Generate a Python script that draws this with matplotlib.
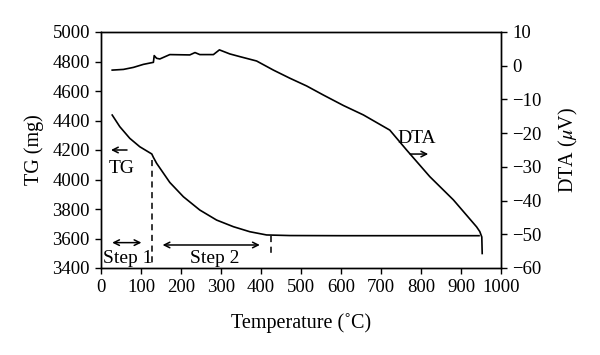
import matplotlib
matplotlib.use("Agg")
import matplotlib.pyplot as plt

plt.rcParams['font.family'] = ['Liberation Serif', 'DejaVu Serif']
plt.rcParams['mathtext.fontset'] = 'stix'

# TG curve (temperature in C, mass in mg)
tg_temp = [28, 47, 72, 97, 127, 131, 139, 172, 206, 247, 289, 331, 372, 414, 472, 600, 800, 945]
tg_mass = [4437, 4358, 4279, 4222, 4173, 4150, 4110, 3980, 3883, 3793, 3725, 3680, 3646, 3624, 3620, 3619, 3619, 3619]

# DTA curve (temperature in C, signal in uV)
dta_temp = [28, 56, 81, 106, 131, 133, 139, 147, 172, 222, 235, 247, 281, 296, 322, 347, 389, 431,
            472, 514, 556, 606, 656, 722, 764, 822, 881, 939, 947, 952, 953]
dta_val = [-1.3, -1.1, -0.5, 0.4, 1.0, 3.0, 2.2, 2.0, 3.3, 3.2, 3.9, 3.3, 3.3, 4.7, 3.5, 2.7, 1.4, -1.3,
           -3.7, -6.0, -8.7, -11.8, -14.6, -19.1, -25.0, -32.9, -39.8, -47.8, -49.2, -50.8, -55.7]

x_ticks = [0, 100, 200, 300, 400, 500, 600, 700, 800, 900, 1000]
tg_ticks = [3400, 3600, 3800, 4000, 4200, 4400, 4600, 4800, 5000]
dta_ticks = [-60, -50, -40, -30, -20, -10, 0, 10]

fig = plt.figure(figsize=(6.0, 3.55), dpi=100)
ax = fig.add_axes([101/600, 1-268/355, 400/600, 236/355])
ax2 = ax.twinx()

ax.plot(tg_temp, tg_mass, color='black', lw=1.2)
ax2.plot(dta_temp, dta_val, color='black', lw=1.2)

ax.set_xlim(0, 1000)
ax.set_ylim(3400, 5000)
ax2.set_ylim(-60, 10)
ax.set_xticks(x_ticks)
ax.set_yticks(tg_ticks)
ax2.set_yticks(dta_ticks)
ax2.set_yticklabels([str(t).replace('-', '\u2212') for t in dta_ticks])

fs_tick = 13.5
fs_lab = 14.5
fs_ann = 14
for a in (ax, ax2):
    a.tick_params(direction='out', length=4, width=1, labelsize=fs_tick, color='black', pad=4)
    for s in a.spines.values():
        s.set_linewidth(1.0)

ax.set_xlabel('Temperature (\u02daC)', fontsize=fs_lab, labelpad=12)
ax.set_ylabel('TG (mg)', fontsize=fs_lab, labelpad=6)
ax2.set_ylabel(r'DTA ($\mu$V)', fontsize=fs_lab, labelpad=11)

# dashed markers
ax.plot([127, 127], [4130, 3420], color='black', lw=1.1, ls=(0, (4, 3)))
ax.plot([424, 424], [3620, 3500], color='black', lw=1.1, ls=(0, (4, 3)))

# step arrows
ax.annotate('', xy=(21, 3572), xytext=(108, 3572),
            arrowprops=dict(arrowstyle='<->', color='black', lw=1.1))
ax.annotate('', xy=(147, 3556), xytext=(404, 3556),
            arrowprops=dict(arrowstyle='<->', color='black', lw=1.1))
ax.text(66, 3462, 'Step 1', fontsize=fs_ann, ha='center', va='center')
ax.text(285, 3462, 'Step 2', fontsize=fs_ann, ha='center', va='center')

# TG label with arrow
ax.annotate('', xy=(18, 4200), xytext=(72, 4200),
            arrowprops=dict(arrowstyle='->', color='black', lw=1.1))
ax.text(52, 4076, 'TG', fontsize=fs_ann, ha='center', va='center')

# DTA label with arrow
ax2.text(789, -21.5, 'DTA', fontsize=fs_ann, ha='center', va='center')
ax2.annotate('', xy=(825, -26.2), xytext=(766, -26.2),
             arrowprops=dict(arrowstyle='->', color='black', lw=1.1))

fig.savefig('out.png', dpi=100)
